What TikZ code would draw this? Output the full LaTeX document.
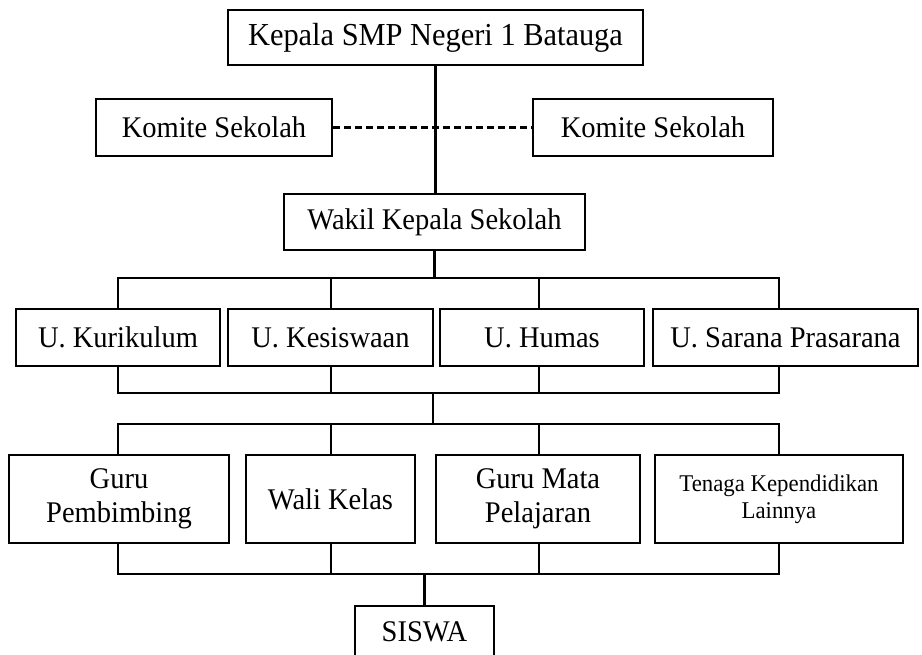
\documentclass[tikz,border=0pt]{standalone}
\usepackage{fontspec}
\setmainfont[FakeStretch=0.95]{Liberation Serif}
\begin{document}
\begin{tikzpicture}[x=1pt,y=-1pt,
  box/.style={draw, line width=2.2pt, inner sep=2pt, align=center,
    font=\fontsize{30}{34}\selectfont},
  conn/.style={line width=2.2pt},
  dashconn/.style={line width=2.2pt, dash pattern=on 7pt off 4pt}]
\useasboundingbox (0,0) rectangle (922,654);
\clip (0,0) rectangle (922,654);
% nodes
\node[box, minimum width=415pt, minimum height=55pt, font=\fontsize{32}{36}\selectfont] (kep) at (435.5,37.5) {Kepala SMP Negeri 1 Batauga};
\node[box, minimum width=236pt, minimum height=57pt] (kom1) at (214,127.5) {Komite Sekolah};
\node[box, minimum width=240pt, minimum height=57pt] (kom2) at (653,127.5) {Komite Sekolah};
\node[box, minimum width=301pt, minimum height=56pt] (wakil) at (434.5,222) {Wakil Kepala Sekolah};
\node[box, minimum width=204pt, minimum height=57pt] (uk) at (118,337.5) {U. Kurikulum};
\node[box, minimum width=205pt, minimum height=57pt] (ukes) at (330.5,337.5) {U. Kesiswaan};
\node[box, minimum width=204pt, minimum height=57pt] (uhum) at (542,337.5) {U. Humas};
\node[box, minimum width=265pt, minimum height=57pt] (usar) at (785.5,337.5) {U. Sarana Prasarana};
\node[box, minimum width=220pt, minimum height=88pt] (gp) at (119,499) {Guru\\Pembimbing};
\node[box, minimum width=169pt, minimum height=88pt] (wk) at (330.5,499) {Wali Kelas};
\node[box, minimum width=204pt, minimum height=88pt] (gmp) at (538,499) {Guru Mata\\Pelajaran};
\node[box, minimum width=248pt, minimum height=88pt, font=\fontsize{24}{27}\selectfont] (tk) at (779,499) {Tenaga Kependidikan\\Lainnya};
\node[box, minimum width=139pt, minimum height=70pt, text height=20pt, text depth=20pt] (siswa) at (424.5,641) {SISWA};
% column coordinates
\coordinate (cA) at (118,0);
\coordinate (cB) at (331,0);
\coordinate (cC) at (539,0);
\coordinate (cD) at (779,0);
\coordinate (b1) at (434.5,278);
\coordinate (b2) at (433,393);
\coordinate (b3) at (433,424);
\coordinate (b4) at (424.5,574);
% connectors
\draw[conn] (kep.south) -- (kep.south |- wakil.north);
\draw[dashconn] (kom1.east) -- (kom2.west);
\draw[conn] (wakil.south) -- (b1);
\draw[conn] (cA |- uk.north) -- (cA |- b1) -- (cD |- b1) -- (cD |- usar.north);
\draw[conn] (cB |- ukes.north) -- (cB |- b1);
\draw[conn] (cC |- uhum.north) -- (cC |- b1);
\draw[conn] (cA |- uk.south) -- (cA |- b2) -- (cD |- b2) -- (cD |- usar.south);
\draw[conn] (cB |- ukes.south) -- (cB |- b2);
\draw[conn] (cC |- uhum.south) -- (cC |- b2);
\draw[conn] (b2) -- (b3);
\draw[conn] (cA |- gp.north) -- (cA |- b3) -- (cD |- b3) -- (cD |- tk.north);
\draw[conn] (cB |- wk.north) -- (cB |- b3);
\draw[conn] (cC |- gmp.north) -- (cC |- b3);
\draw[conn] (cA |- gp.south) -- (cA |- b4) -- (cD |- b4) -- (cD |- tk.south);
\draw[conn] (cB |- wk.south) -- (cB |- b4);
\draw[conn] (cC |- gmp.south) -- (cC |- b4);
\draw[conn] (b4) -- (siswa.north);
\end{tikzpicture}
\end{document}
